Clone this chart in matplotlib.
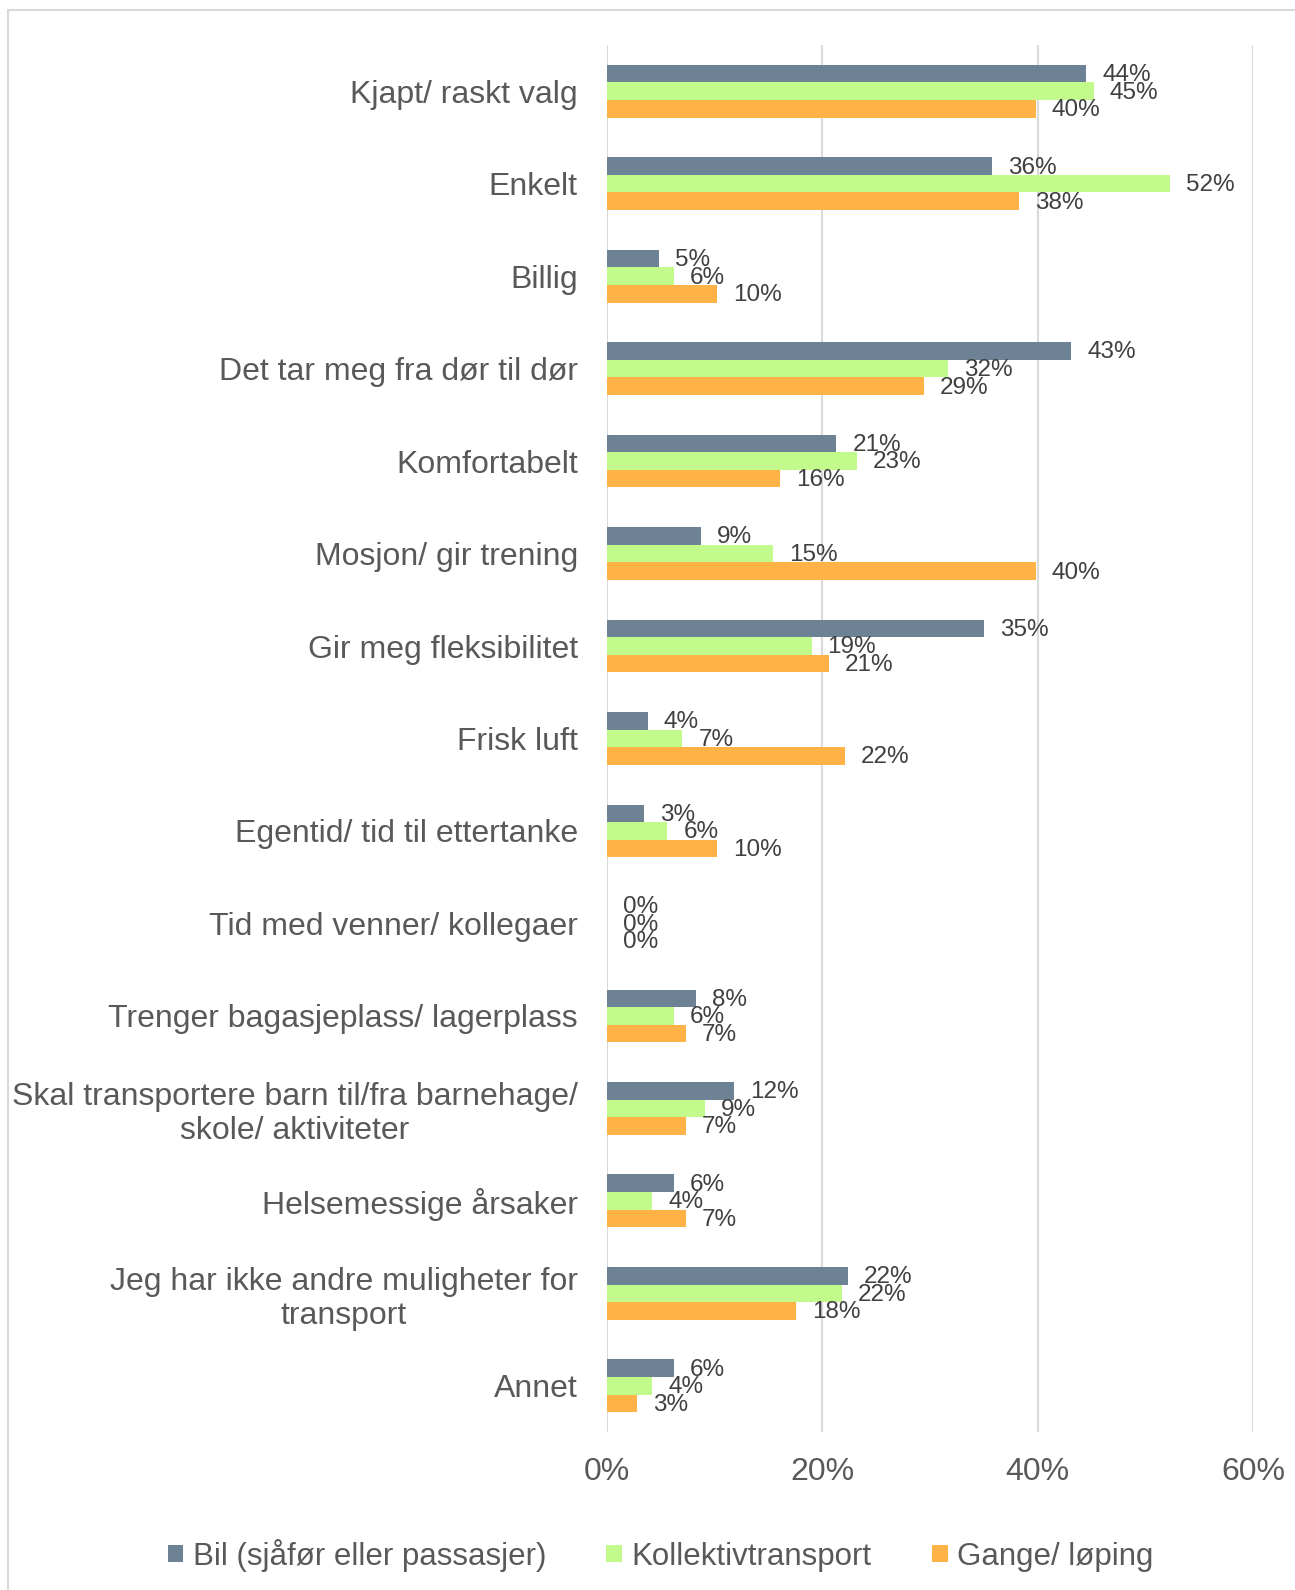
import matplotlib.pyplot as plt
from matplotlib.patches import Rectangle
import numpy as np

plt.rcParams['font.family'] = ['Liberation Sans', 'DejaVu Sans']

categories = [
    "Kjapt/ raskt valg",
    "Enkelt",
    "Billig",
    "Det tar meg fra dør til dør",
    "Komfortabelt",
    "Mosjon/ gir trening",
    "Gir meg fleksibilitet",
    "Frisk luft",
    "Egentid/ tid til ettertanke",
    "Tid med venner/ kollegaer",
    "Trenger bagasjeplass/ lagerplass",
    "Skal transportere barn til/fra barnehage/\nskole/ aktiviteter",
    "Helsemessige årsaker",
    "Jeg har ikke andre muligheter for\ntransport",
    "Annet",
]
series_names = ["Bil (sjåfør eller passasjer)", "Kollektivtransport", "Gange/ løping"]
bil = [44.5, 35.8, 4.8, 43.1, 21.3, 8.7, 35.0, 3.8, 3.4, 0.0, 8.3, 11.8, 6.2, 22.4, 6.2]
kollektiv = [45.2, 52.3, 6.2, 31.7, 23.2, 15.4, 19.0, 7.0, 5.6, 0.0, 6.2, 9.1, 4.2, 21.8, 4.2]
gange = [39.8, 38.3, 10.2, 29.4, 16.1, 39.8, 20.6, 22.1, 10.2, 0.0, 7.3, 7.3, 7.3, 17.6, 2.8]
x_ticks = [0, 20, 40, 60]

colors = ["#6e8295", "#c2fa8c", "#ffb347"]
W, H = 1295, 1590
fig = plt.figure(figsize=(W / 100, H / 100), dpi=100)
fig.patches.append(Rectangle((8 / W, -0.1), 1.2, 1 - 10 / H + 0.1, transform=fig.transFigure,
                             fill=False, edgecolor="#d9d9d9", linewidth=1.5, zorder=-5))

ax = fig.add_axes([607 / W, 1 - 1432 / H, (1253 - 607) / W, (1432 - 45) / H])
ax.patch.set_alpha(0)
n = len(categories)
y = np.arange(n)
bh = 0.19
for i, (vals, col) in enumerate(zip([bil, kollektiv, gange], colors)):
    pos = y + (i - 1) * bh
    ax.barh(pos, vals, height=bh, color=col, label=series_names[i], zorder=3)
    for p, v in zip(pos, vals):
        ax.annotate(f"{v:.0f}%", (v, p), xytext=(11.5, -1), textcoords="offset points",
                    va="center", ha="left", fontsize=17.5, color="#404040", zorder=4)

ax.set_ylim(n - 0.5, -0.5)
ax.set_xlim(0, 60)
ax.set_xticks(x_ticks)
ax.set_xticklabels([f"{t}%" for t in x_ticks])
ax.set_yticks(y)
ax.set_yticklabels(categories, multialignment="center")
ax.tick_params(axis="y", length=0, pad=21, labelsize=23, labelcolor="#595959")
ax.tick_params(axis="x", length=0, pad=18, labelsize=23, labelcolor="#595959")
ax.grid(axis="x", color="#d9d9d9", linewidth=1.5, zorder=0)
for s in ax.spines.values():
    s.set_visible(False)

leg = fig.legend(loc="center", bbox_to_anchor=(0.51, 1 - 1555 / H), ncol=3, frameon=False,
                 fontsize=22.5, handlelength=0.5, handleheight=0.5, handletextpad=0.3,
                 columnspacing=1.93)
for t in leg.get_texts():
    t.set_color("#595959")

fig.savefig("out.png", dpi=100)
